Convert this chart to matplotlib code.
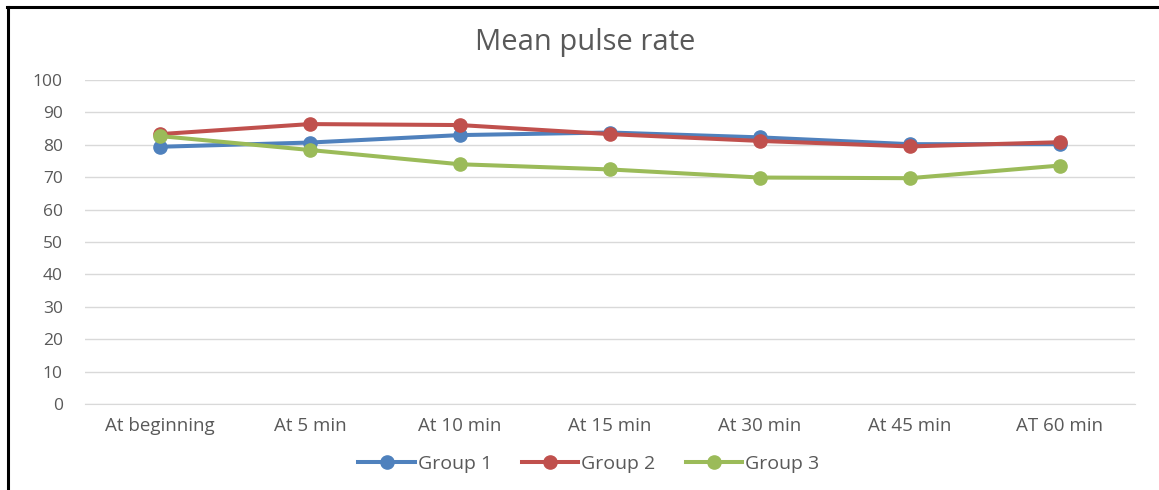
import matplotlib.pyplot as plt
from matplotlib.lines import Line2D

# Data
time_points = ['At beginning', 'At 5 min', 'At 10 min', 'At 15 min',
               'At 30 min', 'At 45 min', 'AT 60 min']
group1 = [79.4, 80.7, 83.0, 83.8, 82.3, 80.2, 80.2]
group2 = [83.3, 86.4, 86.1, 83.3, 81.2, 79.5, 80.8]
group3 = [82.7, 78.4, 74.0, 72.4, 69.9, 69.7, 73.6]
series_names = ['Group 1', 'Group 2', 'Group 3']
colors = ['#4f81bd', '#c0504d', '#9bbb59']

plt.rcParams['font.family'] = ['Open Sans', 'DejaVu Sans']
text_color = '#595959'

fig = plt.figure(figsize=(11.59, 4.9), dpi=100)
ax = fig.add_axes([0.0733, 0.1755, 0.9057, 0.6612])

x = list(range(len(time_points)))
for vals, c, name in zip([group1, group2, group3], colors, series_names):
    ax.plot(x, vals, color=c, linewidth=2.9, marker='o', markersize=9.5,
            label=name, solid_capstyle='round', zorder=3)

ax.set_xlim(-0.5, len(time_points) - 0.5)
ax.set_ylim(0, 100)
ax.set_yticks(range(0, 101, 10))
ax.set_xticks(x)
ax.set_xticklabels(time_points)
ax.grid(axis='y', color='#d9d9d9', linewidth=1)
ax.set_axisbelow(True)
for s in ['top', 'right', 'left']:
    ax.spines[s].set_visible(False)
ax.spines['bottom'].set_color('#d9d9d9')
ax.tick_params(length=0, colors=text_color)
ax.tick_params(axis='y', pad=16, labelsize=12.5)
ax.tick_params(axis='x', pad=9, labelsize=13.5)

fig.text(0.505, 0.913, 'Mean pulse rate', ha='center', va='center',
         fontsize=21, color=text_color)

handles = [Line2D([0], [0], color=c, linewidth=2.9, marker='o', markersize=9.5)
           for c in colors]
fig.legend(handles, series_names, loc='center', bbox_to_anchor=(0.508, 0.054),
           ncol=3, frameon=False, fontsize=14, labelcolor=text_color,
           handlelength=2.9, handletextpad=0.15, columnspacing=1.55)

# frame lines on the left and top edges of the picture
fig.add_artist(Line2D([0.007, 0.007], [0, 0.986], color='black', linewidth=2.2,
                      transform=fig.transFigure))
fig.add_artist(Line2D([0.006, 1.0], [0.986, 0.986], color='black', linewidth=2.2,
                      transform=fig.transFigure))

fig.savefig('out.png', dpi=100)
